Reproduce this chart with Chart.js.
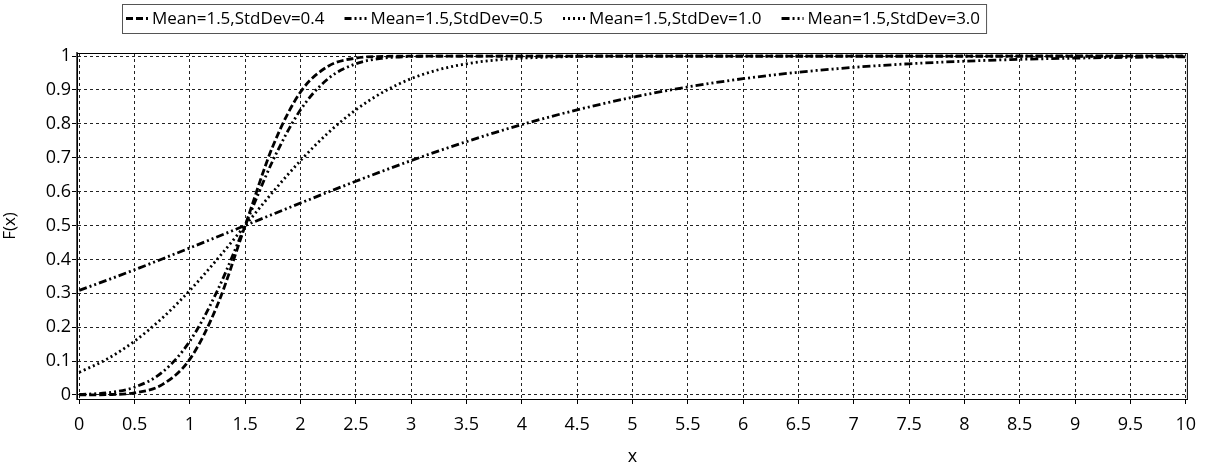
<!DOCTYPE html>
<html>
<head>
<meta charset="utf-8">
<script src="https://cdn.jsdelivr.net/npm/chart.js@4"></script>
<style>
  html, body { margin: 0; padding: 0; background: #fff; }
  #wrap { width: 1206px; height: 468px; position: relative; }
</style>
</head>
<body>
<div id="wrap"><canvas id="cdfChart" width="1206" height="468"></canvas></div>
<script>
/* ===== Data ===== */
const xValues = [0, 0.25, 0.5, 0.75, 1, 1.25, 1.5, 1.75, 2, 2.25, 2.5, 2.75, 3, 3.25, 3.5, 3.75, 4,
                 4.5, 5, 5.5, 6, 6.5, 7, 7.5, 8, 8.5, 9, 9.5, 10];

const sd04 = [0.0001, 0.0009, 0.0062, 0.0304, 0.1056, 0.266, 0.5, 0.734, 0.894, 0.970, 0.994, 0.999, 1, 1, 1, 1, 1,
              1, 1, 1, 1, 1, 1, 1, 1, 1, 1, 1, 1];
const sd05 = [0.0013, 0.0062, 0.0228, 0.0668, 0.1587, 0.3085, 0.5, 0.6915, 0.8413, 0.9332, 0.9772, 0.9938, 0.9987, 0.9998, 1, 1, 1,
              1, 1, 1, 1, 1, 1, 1, 1, 1, 1, 1, 1];
const sd10 = [0.0668, 0.1056, 0.1587, 0.2266, 0.3085, 0.4013, 0.5, 0.5987, 0.6915, 0.7734, 0.8413, 0.8944, 0.9332, 0.9599, 0.9772, 0.9878, 0.9938,
              0.9987, 0.9998, 1, 1, 1, 1, 1, 1, 1, 1, 1, 1];
const sd30 = [0.3085, 0.3385, 0.3694, 0.4013, 0.4338, 0.4668, 0.5, 0.5332, 0.5662, 0.5987, 0.6306, 0.6615, 0.6915, 0.7202, 0.7475, 0.7734, 0.7977,
              0.8413, 0.8783, 0.9088, 0.9332, 0.9522, 0.9666, 0.9772, 0.9848, 0.9902, 0.9938, 0.9962, 0.9977];

const seriesLabels = ['Mean=1.5,StdDev=0.4', 'Mean=1.5,StdDev=0.5', 'Mean=1.5,StdDev=1.0', 'Mean=1.5,StdDev=3.0'];
const xTicks = [0, 0.5, 1, 1.5, 2, 2.5, 3, 3.5, 4, 4.5, 5, 5.5, 6, 6.5, 7, 7.5, 8, 8.5, 9, 9.5, 10];
const yTicks = [0, 0.1, 0.2, 0.3, 0.4, 0.5, 0.6, 0.7, 0.8, 0.9, 1];

const FONT = "'Open Sans', 'DejaVu Sans', sans-serif";

function toPoints(ys){
    return xValues.map((x, i) => ({x: x, y: ys[i]}));
}

const lineStyles = [
    {dash: [7, 3]},
    {dash: [7, 3, 2, 3, 2, 3]},
    {dash: [2, 3]},
    {dash: [8, 3, 2, 3, 2, 3]}
];
const seriesData = [sd04, sd05, sd10, sd30];

/* ===== Legend + frame ===== */
const boxedLegend = {
    id: 'boxedLegend',
    afterDraw(chart){
        const ctx = chart.ctx;
        const area = chart.chartArea;
        ctx.save();
        // plot frame
        ctx.strokeStyle = '#000';
        ctx.lineWidth = 1;
        ctx.setLineDash([]);
        ctx.strokeRect(area.left + 0.5, area.top + 0.5, area.right - area.left - 1, area.bottom - area.top);

        // legend
        ctx.font = '17px ' + FONT;
        ctx.textBaseline = 'middle';
        const left = 122, top = 4, h = 29, sample = 22, gap = 20;
        let x = left + 4;
        const items = [];
        seriesLabels.forEach((lbl, i) => {
            const w = ctx.measureText(lbl).width;
            items.push({x: x, w: w, i: i});
            x += sample + 4 + w + gap;
        });
        const right = x - gap + 6;
        ctx.fillStyle = '#fff';
        ctx.fillRect(left, top, right - left, h);
        ctx.strokeStyle = '#555';
        ctx.strokeRect(left + 0.5, top + 0.5, right - left, h);
        const cy = top + h / 2;
        items.forEach(it => {
            ctx.strokeStyle = '#000';
            ctx.lineWidth = 2.8;
            ctx.setLineDash(lineStyles[it.i].dash);
            ctx.beginPath();
            ctx.moveTo(it.x, cy);
            ctx.lineTo(it.x + sample, cy);
            ctx.stroke();
            ctx.setLineDash([]);
            ctx.fillStyle = '#000';
            ctx.fillText(seriesLabels[it.i], it.x + sample + 4, cy + 1);
        });
        ctx.restore();
    }
};

/* ===== Chart ===== */
const cdfChart = new Chart(document.getElementById('cdfChart'), {
    type: 'line',
    data: {
        datasets: seriesData.map((ys, i) => ({
            label: seriesLabels[i],
            data: toPoints(ys),
            borderColor: '#000',
            borderWidth: 2.8,
            borderDash: lineStyles[i].dash,
            pointRadius: 0,
            fill: false,
            cubicInterpolationMode: 'monotone'
        }))
    },
    options: {
        responsive: false,
        animation: false,
        layout: {padding: {top: 53, right: 16, left: 0, bottom: 0}},
        plugins: {
            legend: {display: false},
            tooltip: {enabled: false}
        },
        scales: {
            x: {
                type: 'linear',
                min: -0.02,
                max: 10.02,
                afterBuildTicks: axis => { axis.ticks = xTicks.map(v => ({value: v})); },
                afterFit: axis => { axis.height = 69; },
                ticks: {
                    color: '#000',
                    font: {family: FONT, size: 18},
                    padding: 10,
                    maxRotation: 0,
                    autoSkip: false,
                    callback: v => String(v)
                },
                grid: {color: '#222', lineWidth: 1, tickLength: 5, tickColor: '#000'},
                border: {display: true, color: '#000', width: 1, dash: [3, 3]},
                title: {display: true, text: 'x', color: '#000', font: {family: FONT, size: 18}, padding: {top: 0, bottom: 0}}
            },
            y: {
                min: -0.012,
                max: 1.009,
                afterBuildTicks: axis => { axis.ticks = yTicks.map(v => ({value: v})); },
                afterFit: axis => { axis.width = 77; },
                ticks: {
                    color: '#000',
                    font: {family: FONT, size: 18},
                    padding: 1,
                    autoSkip: false,
                    callback: v => String(v)
                },
                grid: {color: '#222', lineWidth: 1, tickLength: 5, tickColor: '#000'},
                border: {display: true, color: '#555', width: 2, dash: [3, 3]},
                title: {display: true, text: 'F(x)', color: '#000', font: {family: FONT, size: 17}, padding: {top: 0, bottom: 2}}
            }
        }
    },
    plugins: [boxedLegend]
});
</script>
</body>
</html>
